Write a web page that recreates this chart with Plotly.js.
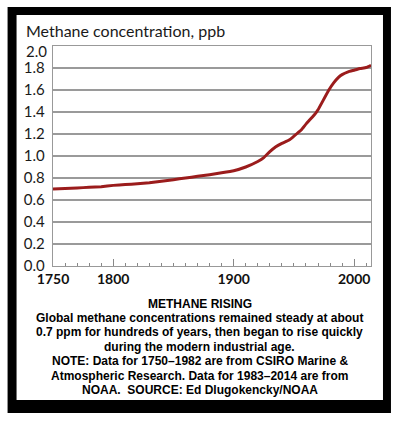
<!DOCTYPE html>
<html>
<head>
<meta charset="utf-8">
<script src="https://cdn.plot.ly/plotly-3.0.1.min.js"></script>
<style>
html,body{margin:0;padding:0;background:#fff;}
#chart{width:398px;height:421px;}
</style>
</head>
<body>
<div id="chart"></div>
<script>
// Data
const years = [1750,1760,1770,1780,1790,1800,1810,1820,1830,1840,1850,1860,1870,1880,1890,1900,1910,1920,1925,1930,1935,1940,1946,1950,1956,1960,1968,1970,1979,1983,1987,1990,1995,2000,2005,2010,2014];
const methane = [0.700,0.705,0.710,0.715,0.721,0.733,0.740,0.748,0.757,0.770,0.785,0.800,0.815,0.830,0.847,0.866,0.900,0.950,0.985,1.040,1.085,1.115,1.145,1.180,1.236,1.290,1.388,1.420,1.600,1.665,1.715,1.740,1.765,1.780,1.795,1.805,1.825];
const yTickVals = [0,0.2,0.4,0.6,0.8,1.0,1.2,1.4,1.6,1.8,2.0];
const yTickText = ["0.0","0.2","0.4","0.6","0.8","1.0","1.2","1.4","1.6","1.8",""];
const yTopLabel = "2.0";
const xTickVals = [1750,1800,1900,2000];
const xTickText = ["1750","1800","1900","2000"];
const titleText = "Methane concentration, ppb";
const captionLines = [
  "METHANE RISING",
  "Global methane concentrations remained steady at about",
  "0.7 ppm for hundreds of years, then began to rise quickly",
  "during the modern industrial age.",
  "NOTE: Data for 1750–1982 are from CSIRO Marine &amp;",
  "Atmospheric Research. Data for 1983–2014 are from",
  "NOAA.  SOURCE: Ed Dlugokencky/NOAA"
];

// Layout geometry (pixels)
const W = 398, H = 421;
const L = 52.5, R = 371, T = 46, B = 266;
const pw = R - L, ph = B - T;
const px = x => (x - L) / pw;
const py = y => (B - y) / ph;

const trace = {
  x: years, y: methane, type: 'scatter', mode: 'lines',
  line: {color: '#9b1c1c', width: 3, shape: 'spline', smoothing: 0.3},
  hoverinfo: 'skip'
};

const tickFontY = {family: 'Lato, sans-serif', size: 15, color: '#1a1a1a'};

const annotations = captionLines.map((t, i) => ({
  text: '<b>' + t + '</b>', xref: 'paper', yref: 'paper',
  x: px(199.5), y: py(303.5 + i * 14.45), xanchor: 'center', yanchor: 'middle',
  align: 'center', showarrow: false,
  font: {family: 'Liberation Sans, Arial, sans-serif', size: 12, color: '#000'}
}));
annotations.push({
  text: yTopLabel, xref: 'paper', yref: 'y', x: 0, y: 2.0,
  xanchor: 'right', yanchor: 'middle', xshift: -4, yshift: -5,
  showarrow: false, font: tickFontY
});

const layout = {
  width: W, height: H,
  margin: {l: L, r: W - R, t: T, b: H - B, pad: 0},
  paper_bgcolor: '#ffffff',
  plot_bgcolor: 'rgba(0,0,0,0)',
  showlegend: false,
  title: {
    text: titleText,
    font: {family: 'Lato, sans-serif', size: 16, color: '#1a1a1a'},
    xref: 'container', yref: 'container',
    x: 26 / W, xanchor: 'left',
    y: 1 - 31.5 / H, yanchor: 'middle'
  },
  xaxis: {
    range: [1750, 2014],
    tickmode: 'array', tickvals: xTickVals, ticktext: xTickText,
    ticks: 'inside', ticklen: 7, tickwidth: 1, tickcolor: '#888',
    tickfont: {family: 'Lato, sans-serif', size: 14, color: '#111', weight: 'bold'},
    minor: {tick0: 1750, dtick: 10, ticks: 'inside', ticklen: 3, tickwidth: 1, tickcolor: '#888', showgrid: false},
    showgrid: false, zeroline: false,
    showline: true, linecolor: '#999', linewidth: 1.2, mirror: true,
    fixedrange: true
  },
  yaxis: {
    range: [0, 2.0],
    tickmode: 'array', tickvals: yTickVals, ticktext: yTickText,
    ticks: '', ticklabelstandoff: 4,
    tickfont: tickFontY,
    showgrid: true, gridcolor: '#9a9a9a', gridwidth: 1.2,
    zeroline: false,
    showline: true, linecolor: '#999', linewidth: 1.2, mirror: true,
    fixedrange: true
  },
  shapes: [
    {type: 'rect', xref: 'paper', yref: 'paper', layer: 'below',
     x0: px(7), x1: px(391), y0: py(413), y1: py(7),
     fillcolor: '#000', line: {width: 0}},
    {type: 'rect', xref: 'paper', yref: 'paper', layer: 'below',
     x0: px(16), x1: px(383), y0: py(400), y1: py(15),
     fillcolor: '#fff', line: {width: 0}}
  ],
  annotations: annotations
};

Plotly.newPlot('chart', [trace], layout, {displayModeBar: false, staticPlot: true});
</script>
</body>
</html>
